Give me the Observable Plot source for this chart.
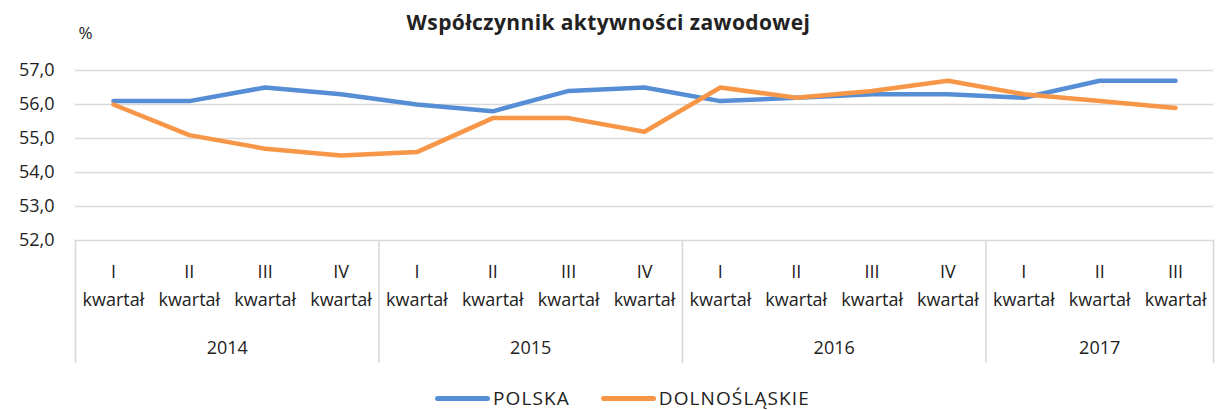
<!DOCTYPE html>
<html>
<head>
<meta charset="utf-8">
<script src="https://cdn.jsdelivr.net/npm/d3@7"></script>
<script src="https://cdn.jsdelivr.net/npm/@observablehq/plot@0.6"></script>
<style>
  html, body { margin: 0; padding: 0; background: #fff; }
  body { width: 1217px; height: 410px; overflow: hidden; font-family: "Open Sans", Lato, sans-serif; color: #222; }
  #wrap { position: relative; width: 1217px; height: 410px; }
  #title { position: absolute; left: 0; width: 1217px; top: 8px; text-align: center; font-weight: bold; font-size: 21px; line-height: 28px; letter-spacing: 0.4px; }
  #chart { position: absolute; left: 0; top: 0; }
  #legend { position: absolute; left: 435px; top: 386px; display: flex; align-items: center; font-size: 19px; line-height: 24px; letter-spacing: 1.1px; }
  .sw { display: inline-block; width: 55px; height: 5px; border-radius: 3px; margin-right: 3px; }
  .item { display: flex; align-items: center; margin-right: 31px; }
</style>
</head>
<body>
<div id="wrap">
  <div id="chart"></div>
  <div id="title">Współczynnik aktywności zawodowej</div>
  <div id="legend"></div>
</div>
<script>
const quarters = ["I","II","III","IV","I","II","III","IV","I","II","III","IV","I","II","III"];
const years = ["2014","2014","2014","2014","2015","2015","2015","2015","2016","2016","2016","2016","2017","2017","2017"];
const polska = [56.1, 56.1, 56.5, 56.3, 56.0, 55.8, 56.4, 56.5, 56.1, 56.2, 56.3, 56.3, 56.2, 56.7, 56.7];
const dolnoslaskie = [56.0, 55.1, 54.7, 54.5, 54.6, 55.6, 55.6, 55.2, 56.5, 56.2, 56.4, 56.7, 56.3, 56.1, 55.9];
const seriesNames = ["POLSKA", "DOLNOŚLĄSKIE"];
const seriesColors = ["#558ed5", "#f79646"];
const yTicks = [52, 53, 54, 55, 56, 57];
const unitLabel = "%";
const quarterWord = "kwartał";

const rows = [];
[polska, dolnoslaskie].forEach((vals, s) => {
  vals.forEach((v, i) => rows.push({i, q: quarters[i], year: years[i], value: v, series: seriesNames[s]}));
});
const cats = quarters.map((q, i) => ({i, q, year: years[i]}));
const yearGroups = d3.groups(cats, d => d.year).map(([year, arr]) => ({
  year, start: d3.min(arr, d => d.i), end: d3.max(arr, d => d.i) + 1
}));
const boundaries = [...yearGroups.map(g => g.start), yearGroups[yearGroups.length - 1].end];

const width = 1217, height = 375, marginTop = 70, marginBottom = 135, marginLeft = 75, marginRight = 4;
const frameH = height - marginTop - marginBottom;

const chart = Plot.plot({
  width, height, marginTop, marginBottom, marginLeft, marginRight,
  style: {fontFamily: "'Open Sans', Lato, sans-serif", fontSize: "18px", color: "#222", background: "#fff"},
  x: {type: "linear", domain: [0, quarters.length], axis: null},
  y: {domain: [52, 57], axis: null},
  color: {domain: seriesNames, range: seriesColors},
  marks: [
    Plot.ruleY(yTicks, {stroke: "#d9d9d9", strokeWidth: 1.6}),
    Plot.ruleX(boundaries, {x: d => d, stroke: "#d9d9d9", strokeWidth: 1.6, insetTop: frameH, insetBottom: -123}),
    Plot.axisY(yTicks, {label: null, tickSize: 0, tickPadding: 21, tickFormat: d => d.toFixed(1).replace(".", ","), fontSize: 18, fill: "#222", ariaLabel: "ylabels"}),
    Plot.text([unitLabel], {text: d => d, frameAnchor: "top-left", lineAnchor: "middle", dx: 3, dy: -37, fontSize: 17, fill: "#222"}),
    Plot.line(rows, {x: d => d.i + 0.5, y: "value", z: "series", stroke: "series", strokeWidth: 4.5}),
    Plot.text(cats, {x: d => d.i + 0.5, text: "q", frameAnchor: "bottom", lineAnchor: "middle", dy: 32, fontSize: 18, fill: "#222"}),
    Plot.text(cats, {x: d => d.i + 0.5, text: () => quarterWord, frameAnchor: "bottom", lineAnchor: "middle", dy: 60, fontSize: 18, fill: "#222"}),
    Plot.text(yearGroups, {x: d => (d.start + d.end) / 2, text: "year", frameAnchor: "bottom", lineAnchor: "middle", dy: 108, fontSize: 18, fill: "#222"})
  ]
});
chart.querySelectorAll('g[aria-label="ylabels"] text').forEach(t => t.style.letterSpacing = "2px");
document.getElementById("chart").appendChild(chart);

const legend = document.getElementById("legend");
seriesNames.forEach((name, k) => {
  const item = document.createElement("div");
  item.className = "item";
  const sw = document.createElement("span");
  sw.className = "sw";
  sw.style.background = seriesColors[k];
  const t = document.createElement("span");
  t.textContent = name;
  item.appendChild(sw); item.appendChild(t);
  legend.appendChild(item);
});
</script>
</body>
</html>
